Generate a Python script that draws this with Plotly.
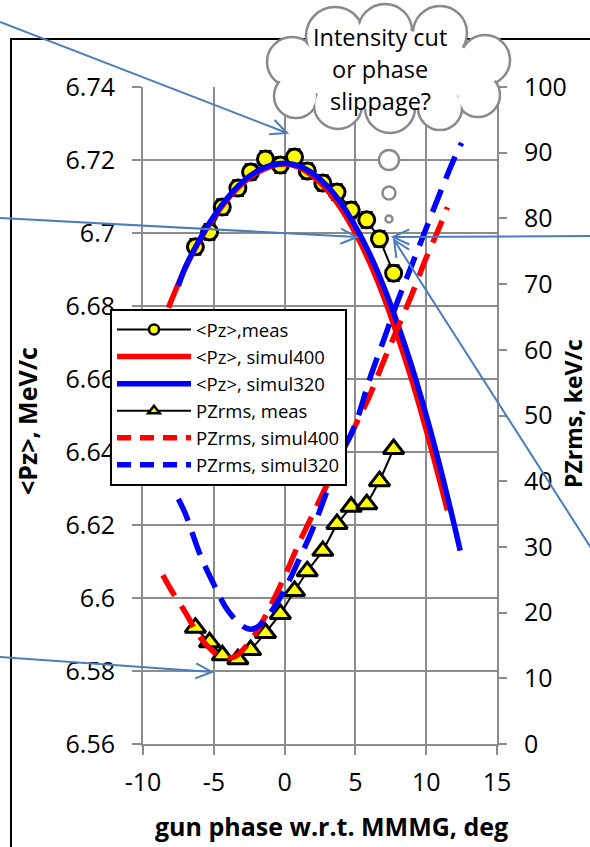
import math
import plotly.graph_objects as go

# ---------------- data ----------------
meas_x = [-6.3, -5.3, -4.4, -3.3, -2.4, -1.35, -0.3, 0.7, 1.6, 2.7, 3.7, 4.7, 5.8, 6.7, 7.7]
pz_meas = [6.6962, 6.7003, 6.7071, 6.7123, 6.7167, 6.7203, 6.7186, 6.7208, 6.7170,
           6.7137, 6.7112, 6.7063, 6.7036, 6.6984, 6.6890]
pz_err = [0.002] * 15
pzrms_meas = [17.7, 15.5, 13.5, 12.9, 14.3, 16.9, 19.8, 23.3, 26.3, 29.4, 33.5, 36.1, 36.5, 40.0, 44.9]

sim400_x = [-8.2, -8, -7, -6, -5, -4, -3, -2, -1, 0, 1, 2, 3, 4, 5, 6, 7, 8, 9, 10, 11, 11.5]
pz_sim400 = [6.6795, 6.6815, 6.6905, 6.6980, 6.7042, 6.7094, 6.7135, 6.7164, 6.7182, 6.7189,
             6.7180, 6.7155, 6.7118, 6.7066, 6.7000, 6.6920, 6.6825, 6.6715, 6.6595, 6.6460,
             6.6315, 6.6240]

sim320_x = [-7.5, -7, -6, -5, -4, -3, -2, -1, 0, 1, 2, 3, 4, 5, 6, 7, 8, 9, 10, 11, 12, 12.4]
pz_sim320 = [6.6855, 6.6907, 6.6982, 6.7046, 6.7098, 6.7139, 6.7168, 6.7185, 6.7191, 6.7184,
             6.7163, 6.7129, 6.7081, 6.7018, 6.6943, 6.6853, 6.6749, 6.6632, 6.6501, 6.6356,
             6.6197, 6.6130]

rms400_x = [-8.6, -8, -7, -6, -5, -4.5, -4, -3.5, -3, -2, -1, 0, 1, 2, 3, 4, 5, 6, 7, 8, 9, 10, 11, 11.5]
rms_sim400 = [25.7, 23.4, 20.0, 16.3, 14.0, 13.3, 13.1, 13.3, 14.2, 17.0, 21.0, 25.5, 30.5,
              35.0, 39.5, 44.0, 48.5, 53.0, 58.3, 63.4, 68.5, 74.0, 79.0, 81.7]

rms320_x = [-7.5, -7, -6, -5, -4, -3, -2.5, -2, -1, 0, 1, 2, 3, 4, 5, 6, 7, 8, 9, 10, 11, 12, 12.5]
rms_sim320 = [37.3, 35.0, 29.0, 24.3, 20.3, 18.0, 17.5, 17.7, 20.0, 23.5, 28.0, 32.8, 38.5,
              44.0, 48.7, 55.5, 61.5, 67.5, 73.0, 78.5, 84.0, 89.2, 91.5]

series_names = ["&lt;Pz&gt;,meas", "&lt;Pz&gt;, simul400", "&lt;Pz&gt;, simul320",
                "PZrms, meas", "PZrms, simul400", "PZrms, simul320"]

x_ticks = [-10, -5, 0, 5, 10, 15]
x_ticktext = ["-10", "-5", "0", "5", "10", "15"]
y_ticks = [6.56, 6.58, 6.6, 6.62, 6.64, 6.66, 6.68, 6.7, 6.72, 6.74]
y_ticktext = ["6.56", "6.58", "6.6", "6.62", "6.64", "6.66", "6.68", "6.7", "6.72", "6.74"]
y2_ticks = [0, 10, 20, 30, 40, 50, 60, 70, 80, 90, 100]

# ---------------- figure ----------------
W, H = 590, 847
L, R, T, B = 143, 497, 87, 744
FONT = "Open Sans"
GRID = "#8c8c8c"
YEL = "#ffff00"
RED = "#ff0000"
BLUE = "#0000ff"
DASH = "24px,12px"


def P(px, py):
    return ((px - L) / (R - L), (B - py) / (B - T))


fig = go.Figure()
fig.add_trace(go.Scatter(
    x=meas_x, y=pz_meas, name=series_names[0], mode="lines+markers", showlegend=False,
    line=dict(color="black", width=2),
    marker=dict(symbol="circle", size=16, color=YEL, line=dict(color="black", width=3)),
    error_y=dict(type="data", array=pz_err, color="black", thickness=3, width=6),
    yaxis="y"))
fig.add_trace(go.Scatter(
    x=sim400_x, y=pz_sim400, name=series_names[1], mode="lines", showlegend=False,
    line=dict(color=RED, width=5.5, shape="spline"), yaxis="y"))
fig.add_trace(go.Scatter(
    x=sim320_x, y=pz_sim320, name=series_names[2], mode="lines", showlegend=False,
    line=dict(color=BLUE, width=5.5, shape="spline"), yaxis="y"))
fig.add_trace(go.Scatter(
    x=meas_x, y=pzrms_meas, name=series_names[3], mode="lines+markers", showlegend=False,
    line=dict(color="black", width=2),
    marker=dict(symbol="triangle-up", size=18, color=YEL, line=dict(color="black", width=3)),
    yaxis="y2"))
fig.add_trace(go.Scatter(
    x=rms400_x, y=rms_sim400, name=series_names[4], mode="lines", showlegend=False,
    line=dict(color=RED, width=5.5, dash=DASH, shape="spline"), yaxis="y2"))
fig.add_trace(go.Scatter(
    x=rms320_x, y=rms_sim320, name=series_names[5], mode="lines", showlegend=False,
    line=dict(color=BLUE, width=5.5, dash=DASH, shape="spline"), yaxis="y2"))

# legend-only entries (smaller legend symbols, as in the reference)
legend_styles = [
    dict(mode="lines+markers", line=dict(color="black", width=2),
         marker=dict(symbol="circle", size=10, color=YEL, line=dict(color="black", width=2.5))),
    dict(mode="lines", line=dict(color=RED, width=5.5)),
    dict(mode="lines", line=dict(color=BLUE, width=5.5)),
    dict(mode="lines+markers", line=dict(color="black", width=2),
         marker=dict(symbol="triangle-up", size=10, color=YEL, line=dict(color="black", width=2.5))),
    dict(mode="lines", line=dict(color=RED, width=5.5, dash="14px,9px")),
    dict(mode="lines", line=dict(color=BLUE, width=5.5, dash="14px,9px")),
]
for nm, st in zip(series_names, legend_styles):
    fig.add_trace(go.Scatter(x=[None], y=[None], name=nm, showlegend=True, **st))

shapes = []

# outer chart border
x0, y0 = P(11, 39)
x1, y1 = P(620, 900)
shapes.append(dict(type="rect", xref="paper", yref="paper", x0=x0, y0=y0, x1=x1, y1=y1,
                   line=dict(color="black", width=2), fillcolor="rgba(0,0,0,0)", layer="below"))

# cloud
lobes = [(292, 62, 25), (296, 96, 22), (335, 36, 29), (385, 31, 27), (440, 33, 27),
         (485, 60, 25), (478, 95, 22), (440, 108, 22), (390, 108, 25), (338, 105, 24)]
CLOUD = "#8a8a8a"


def circ(cx, cy, r, line, fill):
    a, b = P(cx - r, cy + r)
    c, d = P(cx + r, cy - r)
    return dict(type="circle", xref="paper", yref="paper", x0=a, y0=b, x1=c, y1=d,
                line=line, fillcolor=fill, layer="above")


for cx, cy, r in lobes:
    shapes.append(circ(cx, cy, r, dict(color=CLOUD, width=2.5), "white"))
for cx, cy, r in lobes:
    shapes.append(circ(cx, cy, r - 2, dict(width=0), "white"))
a, b = P(300, 110)
c, d = P(478, 30)
shapes.append(dict(type="circle", xref="paper", yref="paper", x0=a, y0=b, x1=c, y1=d,
                   line=dict(width=0), fillcolor="white", layer="above"))
# thought bubbles
for cx, cy, r in [(389, 160, 10), (389, 193, 6.5), (389, 219, 3.5)]:
    shapes.append(circ(cx, cy, r, dict(color=CLOUD, width=2.5), "white"))

# blue annotation arrows
ARROW = "#4a7ebb"


def arrow(sx, sy, tx, ty, ln=18, ang=25):
    dx, dy = tx - sx, ty - sy
    n = math.hypot(dx, dy)
    ux, uy = dx / n, dy / n
    pts = []
    for s in (1, -1):
        t = math.radians(ang) * s
        rx = ux * math.cos(t) - uy * math.sin(t)
        ry = ux * math.sin(t) + uy * math.cos(t)
        pts.append((tx - ln * rx, ty - ln * ry))
    p0 = P(sx, sy)
    pt = P(tx, ty)
    pa = P(*pts[0])
    pb = P(*pts[1])
    path = (f"M{p0[0]},{p0[1]} L{pt[0]},{pt[1]} "
            f"M{pa[0]},{pa[1]} L{pt[0]},{pt[1]} L{pb[0]},{pb[1]}")
    return dict(type="path", xref="paper", yref="paper", path=path,
                line=dict(color=ARROW, width=2), layer="above")


shapes.append(arrow(0, 22, 287, 133))
shapes.append(arrow(0, 218, 357, 237))
shapes.append(arrow(600, 236, 393, 237))
shapes.append(arrow(600, 562, 394, 240))
shapes.append(arrow(0, 657, 212, 672))

annotations = []
for txt, py in [("Intensity cut", 37), ("or phase", 69), ("slippage?", 101)]:
    ax, ay = P(380, py)
    annotations.append(dict(text=txt, x=ax, y=ay, xref="paper", yref="paper", showarrow=False,
                            xanchor="center", yanchor="middle",
                            font=dict(family=FONT, size=23.5, color="black")))

ax, ay = P(27, 421)
annotations.append(dict(text="<b>&lt;Pz&gt;, MeV/c</b>", x=ax, y=ay, xref="paper", yref="paper",
                        showarrow=False, textangle=-90, xanchor="center", yanchor="middle",
                        font=dict(family=FONT, size=25, color="black")))
ax, ay = P(573, 414)
annotations.append(dict(text="<b>PZrms, keV/c</b>", x=ax, y=ay, xref="paper", yref="paper",
                        showarrow=False, textangle=-90, xanchor="center", yanchor="middle",
                        font=dict(family=FONT, size=23, color="black")))
ax, ay = P(331, 826)
annotations.append(dict(text="<b>gun phase w.r.t. MMMG, deg</b>", x=ax, y=ay, xref="paper",
                        yref="paper", showarrow=False, xanchor="center", yanchor="middle",
                        font=dict(family=FONT, size=25, color="black")))

lx, ly = P(110, 309)
fig.update_layout(
    width=W, height=H, autosize=False,
    margin=dict(l=L, r=W - R, t=T, b=H - B, pad=0),
    paper_bgcolor="white", plot_bgcolor="white",
    font=dict(family=FONT, color="black"),
    xaxis=dict(range=[-10, 15], tickvals=x_ticks, ticktext=x_ticktext, showgrid=True,
               gridcolor=GRID, gridwidth=2,
               zeroline=False, showline=True, linecolor=GRID, linewidth=2,
               ticks="outside", ticklen=9, tickwidth=2, tickcolor=GRID,
               tickfont=dict(size=25, family=FONT, color="black"), ticklabelstandoff=6),
    yaxis=dict(range=[6.56, 6.74], tickvals=y_ticks, ticktext=y_ticktext, showgrid=True,
               gridcolor=GRID, gridwidth=2, zeroline=False, showline=True, linecolor=GRID,
               linewidth=2, ticks="outside", ticklen=9, tickwidth=2, tickcolor=GRID,
               tickfont=dict(size=25, family=FONT, color="black"), ticklabelstandoff=12),
    yaxis2=dict(range=[0, 100], tickvals=y2_ticks, overlaying="y", side="right",
                showgrid=False, zeroline=False, showline=True, linecolor=GRID, linewidth=2,
                ticks="outside", ticklen=8, tickwidth=2, tickcolor=GRID,
                tickfont=dict(size=25, family=FONT, color="black"), ticklabelstandoff=12),
    legend=dict(x=lx, y=ly, xanchor="left", yanchor="top", bgcolor="white",
                bordercolor="black", borderwidth=2, font=dict(size=18.5, family=FONT),
                itemwidth=74, tracegroupgap=0),
    showlegend=True,
    shapes=shapes,
    annotations=annotations,
)

fig.write_html("out.html")
